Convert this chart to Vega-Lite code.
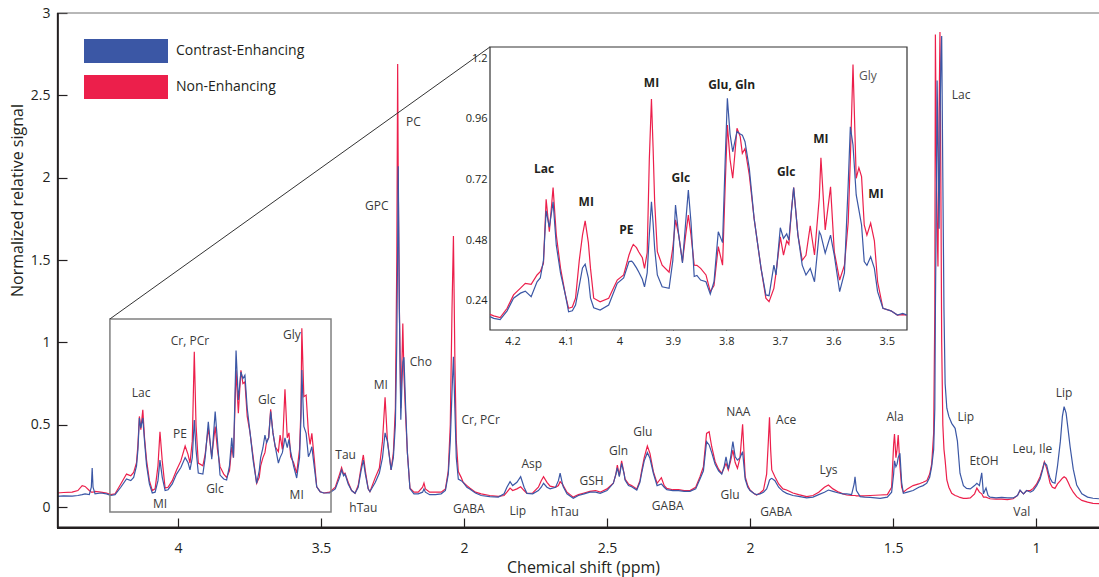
{
  "$schema": "https://vega.github.io/schema/vega-lite/v6.json",
  "width": 1042,
  "height": 515,
  "autosize": "none",
  "padding": {"left": 57, "top": 13, "right": 0, "bottom": 49},
  "background": "white",
  "config": {
    "view": {"stroke": null},
    "font": "Open Sans",
    "legend": {
      "orient": "none",
      "legendX": 27,
      "legendY": 26,
      "title": null,
      "padding": 0,
      "symbolType": "M-1,-0.2857H1V0.2857H-1Z",
      "symbolSize": 7056,
      "symbolStrokeWidth": 0,
      "labelFontSize": 14,
      "labelFont": "Open Sans",
      "labelColor": "#231f20",
      "labelOffset": 8,
      "clipHeight": 24,
      "rowPadding": 12
    }
  },
  "datasets": {
    "one": [{}],
    "main": [
      {"p":4.423,"C":0.065,"N":0.085},{"p":4.40,"C":0.068,"N":0.088},{"p":4.37,"C":0.066,"N":0.09},{"p":4.35,"C":0.07,"N":0.10},
      {"p":4.335,"C":0.075,"N":0.13},{"p":4.325,"C":0.08,"N":0.125},{"p":4.31,"C":0.075,"N":0.1},{"p":4.303,"C":0.12,"N":0.09},
      {"p":4.300,"C":0.237,"N":0.09},{"p":4.297,"C":0.12,"N":0.09},{"p":4.29,"C":0.08,"N":0.095},{"p":4.27,"C":0.085,"N":0.09},
      {"p":4.25,"C":0.08,"N":0.085},{"p":4.235,"C":0.07,"N":0.075},{"p":4.22,"C":0.075,"N":0.08},{"p":4.20,"C":0.12,"N":0.14},
      {"p":4.18,"C":0.17,"N":0.2},{"p":4.165,"C":0.16,"N":0.19},{"p":4.155,"C":0.18,"N":0.21},{"p":4.145,"C":0.25,"N":0.27},
      {"p":4.14,"C":0.35,"N":0.38},{"p":4.135,"C":0.54,"N":0.55},{"p":4.13,"C":0.48,"N":0.47},{"p":4.123,"C":0.54,"N":0.59},
      {"p":4.117,"C":0.4,"N":0.42},{"p":4.11,"C":0.255,"N":0.285},{"p":4.10,"C":0.14,"N":0.16},{"p":4.09,"C":0.085,"N":0.10},
      {"p":4.08,"C":0.09,"N":0.11},{"p":4.07,"C":0.16,"N":0.25},{"p":4.063,"C":0.285,"N":0.457},{"p":4.055,"C":0.18,"N":0.28},
      {"p":4.045,"C":0.10,"N":0.115},{"p":4.035,"C":0.105,"N":0.12},{"p":4.02,"C":0.14,"N":0.16},{"p":4.005,"C":0.2,"N":0.225},
      {"p":3.99,"C":0.24,"N":0.28},{"p":3.975,"C":0.30,"N":0.37},{"p":3.965,"C":0.27,"N":0.32},{"p":3.958,"C":0.225,"N":0.267},
      {"p":3.95,"C":0.3,"N":0.4},{"p":3.943,"C":0.528,"N":0.943},{"p":3.937,"C":0.35,"N":0.5},{"p":3.929,"C":0.206,"N":0.267},
      {"p":3.913,"C":0.20,"N":0.25},{"p":3.905,"C":0.3,"N":0.32},{"p":3.894,"C":0.518,"N":0.48},{"p":3.882,"C":0.29,"N":0.305},
      {"p":3.87,"C":0.579,"N":0.488},{"p":3.862,"C":0.4,"N":0.35},{"p":3.853,"C":0.194,"N":0.245},{"p":3.84,"C":0.17,"N":0.2},
      {"p":3.83,"C":0.164,"N":0.18},{"p":3.82,"C":0.25,"N":0.22},{"p":3.812,"C":0.42,"N":0.366},{"p":3.806,"C":0.3,"N":0.3},
      {"p":3.797,"C":0.95,"N":0.83},{"p":3.789,"C":0.65,"N":0.57},{"p":3.78,"C":0.82,"N":0.83},{"p":3.773,"C":0.78,"N":0.75},
      {"p":3.766,"C":0.80,"N":0.76},{"p":3.758,"C":0.6,"N":0.55},{"p":3.748,"C":0.45,"N":0.45},{"p":3.737,"C":0.28,"N":0.3},
      {"p":3.725,"C":0.144,"N":0.144},{"p":3.716,"C":0.22,"N":0.18},{"p":3.711,"C":0.30,"N":0.25},{"p":3.703,"C":0.36,"N":0.30},
      {"p":3.696,"C":0.437,"N":0.33},{"p":3.69,"C":0.39,"N":0.40},{"p":3.683,"C":0.42,"N":0.42},{"p":3.676,"C":0.58,"N":0.593},
      {"p":3.668,"C":0.45,"N":0.45},{"p":3.66,"C":0.366,"N":0.366},{"p":3.649,"C":0.267,"N":0.336},{"p":3.643,"C":0.3,"N":0.437},
      {"p":3.635,"C":0.33,"N":0.35},{"p":3.626,"C":0.42,"N":0.715},{"p":3.618,"C":0.36,"N":0.42},{"p":3.612,"C":0.41,"N":0.45},
      {"p":3.606,"C":0.336,"N":0.305},{"p":3.596,"C":0.25,"N":0.27},{"p":3.585,"C":0.176,"N":0.206},{"p":3.575,"C":0.3,"N":0.35},
      {"p":3.57,"C":0.55,"N":0.6},{"p":3.567,"C":0.832,"N":1.085},{"p":3.56,"C":0.49,"N":0.67},{"p":3.552,"C":0.447,"N":0.68},
      {"p":3.544,"C":0.305,"N":0.45},{"p":3.538,"C":0.33,"N":0.38},{"p":3.532,"C":0.366,"N":0.447},{"p":3.524,"C":0.25,"N":0.3},
      {"p":3.515,"C":0.123,"N":0.123},{"p":3.503,"C":0.093,"N":0.093},{"p":3.49,"C":0.085,"N":0.085},{"p":3.47,"C":0.085,"N":0.09},
      {"p":3.45,"C":0.11,"N":0.12},{"p":3.435,"C":0.18,"N":0.2},{"p":3.428,"C":0.225,"N":0.24},{"p":3.421,"C":0.19,"N":0.2},
      {"p":3.416,"C":0.2,"N":0.206},{"p":3.405,"C":0.14,"N":0.15},{"p":3.393,"C":0.1,"N":0.1},{"p":3.381,"C":0.083,"N":0.083},
      {"p":3.37,"C":0.12,"N":0.13},{"p":3.36,"C":0.22,"N":0.24},{"p":3.352,"C":0.285,"N":0.316},{"p":3.345,"C":0.2,"N":0.22},
      {"p":3.335,"C":0.11,"N":0.11},{"p":3.329,"C":0.093,"N":0.093},{"p":3.31,"C":0.15,"N":0.18},{"p":3.296,"C":0.206,"N":0.237},
      {"p":3.285,"C":0.3,"N":0.4},{"p":3.276,"C":0.45,"N":0.666},{"p":3.268,"C":0.40,"N":0.41},{"p":3.255,"C":0.225,"N":0.225},
      {"p":3.247,"C":0.3,"N":0.33},{"p":3.24,"C":0.5,"N":0.6},{"p":3.235,"C":1.0,"N":1.5},{"p":3.232,"C":1.6,"N":2.69},
      {"p":3.230,"C":2.07,"N":2.0},{"p":3.226,"C":1.2,"N":1.2},{"p":3.221,"C":0.53,"N":0.60},{"p":3.216,"C":0.8,"N":0.95},
      {"p":3.214,"C":0.88,"N":1.115},{"p":3.21,"C":0.91,"N":0.8},{"p":3.204,"C":0.6,"N":0.55},{"p":3.198,"C":0.33,"N":0.33},
      {"p":3.189,"C":0.11,"N":0.115},{"p":3.175,"C":0.08,"N":0.09},{"p":3.16,"C":0.08,"N":0.09},{"p":3.145,"C":0.09,"N":0.12},
      {"p":3.14,"C":0.11,"N":0.145},{"p":3.135,"C":0.09,"N":0.11},{"p":3.12,"C":0.075,"N":0.09},{"p":3.10,"C":0.075,"N":0.09},
      {"p":3.08,"C":0.08,"N":0.09},{"p":3.065,"C":0.1,"N":0.11},{"p":3.055,"C":0.2,"N":0.22},{"p":3.048,"C":0.4,"N":0.5},
      {"p":3.042,"C":0.7,"N":1.2},{"p":3.037,"C":0.913,"N":1.645},{"p":3.032,"C":0.6,"N":0.9},{"p":3.027,"C":0.3,"N":0.4},
      {"p":3.02,"C":0.17,"N":0.215},{"p":3.01,"C":0.16,"N":0.18},{"p":3.003,"C":0.15,"N":0.15},{"p":2.99,"C":0.12,"N":0.13},
      {"p":2.98,"C":0.11,"N":0.115},{"p":2.96,"C":0.085,"N":0.09},{"p":2.94,"C":0.07,"N":0.08},{"p":2.91,"C":0.063,"N":0.07},
      {"p":2.88,"C":0.06,"N":0.065},{"p":2.86,"C":0.08,"N":0.07},{"p":2.85,"C":0.12,"N":0.09},{"p":2.839,"C":0.154,"N":0.115},
      {"p":2.83,"C":0.13,"N":0.1},{"p":2.815,"C":0.15,"N":0.11},{"p":2.802,"C":0.184,"N":0.123},{"p":2.79,"C":0.12,"N":0.1},
      {"p":2.78,"C":0.083,"N":0.083},{"p":2.76,"C":0.08,"N":0.085},{"p":2.74,"C":0.1,"N":0.12},{"p":2.73,"C":0.12,"N":0.16},
      {"p":2.722,"C":0.144,"N":0.184},{"p":2.71,"C":0.12,"N":0.15},{"p":2.699,"C":0.11,"N":0.127},{"p":2.68,"C":0.12,"N":0.12},
      {"p":2.67,"C":0.16,"N":0.13},{"p":2.664,"C":0.205,"N":0.154},{"p":2.657,"C":0.15,"N":0.14},{"p":2.653,"C":0.123,"N":0.13},
      {"p":2.64,"C":0.08,"N":0.09},{"p":2.618,"C":0.053,"N":0.06},{"p":2.6,"C":0.07,"N":0.075},{"p":2.58,"C":0.08,"N":0.085},
      {"p":2.56,"C":0.09,"N":0.095},{"p":2.54,"C":0.09,"N":0.1},{"p":2.524,"C":0.083,"N":0.09},{"p":2.5,"C":0.1,"N":0.11},
      {"p":2.478,"C":0.144,"N":0.144},{"p":2.469,"C":0.2,"N":0.2},{"p":2.464,"C":0.237,"N":0.255},{"p":2.457,"C":0.184,"N":0.19},
      {"p":2.449,"C":0.265,"N":0.28},{"p":2.44,"C":0.2,"N":0.2},{"p":2.437,"C":0.164,"N":0.17},{"p":2.425,"C":0.13,"N":0.14},
      {"p":2.414,"C":0.123,"N":0.13},{"p":2.396,"C":0.103,"N":0.11},{"p":2.385,"C":0.15,"N":0.16},{"p":2.379,"C":0.205,"N":0.22},
      {"p":2.37,"C":0.28,"N":0.3},{"p":2.359,"C":0.33,"N":0.37},{"p":2.35,"C":0.296,"N":0.326},{"p":2.338,"C":0.205,"N":0.215},
      {"p":2.325,"C":0.13,"N":0.144},{"p":2.31,"C":0.14,"N":0.178},{"p":2.3,"C":0.12,"N":0.13},{"p":2.291,"C":0.105,"N":0.113},
      {"p":2.27,"C":0.1,"N":0.105},{"p":2.25,"C":0.1,"N":0.105},{"p":2.23,"C":0.095,"N":0.1},{"p":2.21,"C":0.095,"N":0.1},
      {"p":2.19,"C":0.11,"N":0.12},{"p":2.175,"C":0.17,"N":0.184},{"p":2.163,"C":0.22,"N":0.245},{"p":2.152,"C":0.397,"N":0.447},
      {"p":2.143,"C":0.377,"N":0.457},{"p":2.134,"C":0.33,"N":0.366},{"p":2.122,"C":0.26,"N":0.275},{"p":2.11,"C":0.22,"N":0.23},
      {"p":2.099,"C":0.2,"N":0.205},{"p":2.09,"C":0.25,"N":0.24},{"p":2.084,"C":0.305,"N":0.265},{"p":2.076,"C":0.23,"N":0.225},
      {"p":2.068,"C":0.3,"N":0.28},{"p":2.06,"C":0.397,"N":0.346},{"p":2.052,"C":0.305,"N":0.27},{"p":2.044,"C":0.285,"N":0.235},
      {"p":2.035,"C":0.3,"N":0.3},{"p":2.026,"C":0.336,"N":0.502},{"p":2.017,"C":0.17,"N":0.184},{"p":2.008,"C":0.12,"N":0.13},
      {"p":2.0,"C":0.1,"N":0.103},{"p":1.985,"C":0.08,"N":0.08},{"p":1.977,"C":0.075,"N":0.073},{"p":1.965,"C":0.08,"N":0.085},
      {"p":1.953,"C":0.09,"N":0.103},{"p":1.942,"C":0.11,"N":0.2},{"p":1.936,"C":0.14,"N":0.4},{"p":1.932,"C":0.164,"N":0.545},
      {"p":1.928,"C":0.17,"N":0.35},{"p":1.924,"C":0.174,"N":0.225},{"p":1.913,"C":0.16,"N":0.184},{"p":1.9,"C":0.12,"N":0.14},
      {"p":1.885,"C":0.095,"N":0.11},{"p":1.872,"C":0.083,"N":0.103},{"p":1.85,"C":0.07,"N":0.085},{"p":1.83,"C":0.065,"N":0.075},
      {"p":1.802,"C":0.055,"N":0.063},{"p":1.78,"C":0.06,"N":0.07},{"p":1.76,"C":0.075,"N":0.09},{"p":1.74,"C":0.09,"N":0.12},
      {"p":1.726,"C":0.103,"N":0.134},{"p":1.71,"C":0.095,"N":0.11},{"p":1.69,"C":0.085,"N":0.09},{"p":1.675,"C":0.08,"N":0.08},
      {"p":1.662,"C":0.08,"N":0.073},{"p":1.645,"C":0.075,"N":0.07},{"p":1.636,"C":0.14,"N":0.07},{"p":1.633,"C":0.184,"N":0.07},
      {"p":1.628,"C":0.1,"N":0.068},{"p":1.615,"C":0.063,"N":0.068},{"p":1.6,"C":0.06,"N":0.068},{"p":1.58,"C":0.058,"N":0.07},
      {"p":1.545,"C":0.053,"N":0.073},{"p":1.52,"C":0.06,"N":0.075},{"p":1.505,"C":0.09,"N":0.12},{"p":1.498,"C":0.2,"N":0.38},
      {"p":1.495,"C":0.28,"N":0.443},{"p":1.49,"C":0.245,"N":0.3},{"p":1.486,"C":0.26,"N":0.35},{"p":1.482,"C":0.3,"N":0.437},
      {"p":1.476,"C":0.326,"N":0.25},{"p":1.47,"C":0.15,"N":0.12},{"p":1.464,"C":0.083,"N":0.09},{"p":1.45,"C":0.09,"N":0.11},
      {"p":1.43,"C":0.1,"N":0.13},{"p":1.41,"C":0.12,"N":0.14},{"p":1.395,"C":0.13,"N":0.15},{"p":1.382,"C":0.145,"N":0.16},
      {"p":1.372,"C":0.18,"N":0.2},{"p":1.365,"C":0.245,"N":0.26},{"p":1.358,"C":0.35,"N":0.45},{"p":1.354,"C":0.6,"N":1.2},
      {"p":1.352,"C":1.2,"N":2.87},{"p":1.348,"C":2.0,"N":2.0},{"p":1.346,"C":2.59,"N":1.7},{"p":1.343,"C":2.2,"N":1.46},
      {"p":1.339,"C":1.69,"N":2.4},{"p":1.336,"C":2.3,"N":2.885},{"p":1.333,"C":2.7,"N":2.0},{"p":1.330,"C":2.86,"N":1.0},
      {"p":1.326,"C":2.0,"N":0.5},{"p":1.322,"C":1.2,"N":0.35},{"p":1.318,"C":0.75,"N":0.285},{"p":1.312,"C":0.6,"N":0.164},
      {"p":1.305,"C":0.55,"N":0.12},{"p":1.295,"C":0.508,"N":0.083},{"p":1.283,"C":0.478,"N":0.07},{"p":1.275,"C":0.4,"N":0.065},
      {"p":1.266,"C":0.205,"N":0.058},{"p":1.254,"C":0.13,"N":0.053},{"p":1.243,"C":0.113,"N":0.053},{"p":1.23,"C":0.11,"N":0.055},
      {"p":1.215,"C":0.13,"N":0.08},{"p":1.207,"C":0.144,"N":0.115},{"p":1.198,"C":0.13,"N":0.09},{"p":1.19,"C":0.208,"N":0.08},
      {"p":1.184,"C":0.08,"N":0.06},{"p":1.175,"C":0.115,"N":0.06},{"p":1.168,"C":0.07,"N":0.055},{"p":1.161,"C":0.06,"N":0.05},
      {"p":1.14,"C":0.055,"N":0.048},{"p":1.12,"C":0.058,"N":0.048},{"p":1.1,"C":0.055,"N":0.045},{"p":1.08,"C":0.055,"N":0.05},
      {"p":1.065,"C":0.07,"N":0.07},{"p":1.056,"C":0.103,"N":0.1},{"p":1.05,"C":0.09,"N":0.09},{"p":1.044,"C":0.08,"N":0.08},
      {"p":1.033,"C":0.1,"N":0.1},{"p":1.02,"C":0.09,"N":0.1},{"p":1.01,"C":0.1,"N":0.113},{"p":0.998,"C":0.13,"N":0.14},
      {"p":0.986,"C":0.17,"N":0.184},{"p":0.978,"C":0.22,"N":0.23},{"p":0.971,"C":0.269,"N":0.275},{"p":0.963,"C":0.255,"N":0.235},
      {"p":0.957,"C":0.21,"N":0.19},{"p":0.951,"C":0.174,"N":0.144},{"p":0.943,"C":0.15,"N":0.12},{"p":0.934,"C":0.144,"N":0.113},
      {"p":0.925,"C":0.25,"N":0.14},{"p":0.915,"C":0.4,"N":0.16},{"p":0.908,"C":0.55,"N":0.175},{"p":0.902,"C":0.61,"N":0.184},
      {"p":0.895,"C":0.57,"N":0.175},{"p":0.888,"C":0.47,"N":0.15},{"p":0.881,"C":0.366,"N":0.123},{"p":0.87,"C":0.23,"N":0.09},
      {"p":0.858,"C":0.134,"N":0.063},{"p":0.84,"C":0.08,"N":0.04},{"p":0.82,"C":0.06,"N":0.03},{"p":0.801,"C":0.053,"N":0.022},
      {"p":0.78,"C":0.05,"N":0.02}
    ],
    "inset": [
      {"p":4.242,"C":0.177,"N":0.186},{"p":4.235,"C":0.17,"N":0.18},{"p":4.223,"C":0.165,"N":0.173},{"p":4.21,"C":0.2,"N":0.21},
      {"p":4.198,"C":0.25,"N":0.263},{"p":4.185,"C":0.27,"N":0.29},{"p":4.176,"C":0.278,"N":0.309},{"p":4.165,"C":0.256,"N":0.305},
      {"p":4.154,"C":0.315,"N":0.342},{"p":4.148,"C":0.33,"N":0.355},{"p":4.142,"C":0.4,"N":0.388},{"p":4.137,"C":0.596,"N":0.642},
      {"p":4.131,"C":0.531,"N":0.513},{"p":4.124,"C":0.632,"N":0.688},{"p":4.118,"C":0.46,"N":0.50},{"p":4.11,"C":0.348,"N":0.368},
      {"p":4.101,"C":0.263,"N":0.263},{"p":4.095,"C":0.196,"N":0.21},{"p":4.088,"C":0.2,"N":0.215},{"p":4.082,"C":0.223,"N":0.25},
      {"p":4.075,"C":0.3,"N":0.4},{"p":4.069,"C":0.37,"N":0.5},{"p":4.064,"C":0.385,"N":0.556},{"p":4.058,"C":0.33,"N":0.47},
      {"p":4.054,"C":0.25,"N":0.368},{"p":4.048,"C":0.212,"N":0.25},{"p":4.036,"C":0.203,"N":0.236},{"p":4.02,"C":0.223,"N":0.25},
      {"p":4.004,"C":0.309,"N":0.322},{"p":3.992,"C":0.33,"N":0.342},{"p":3.982,"C":0.395,"N":0.421},{"p":3.977,"C":0.397,"N":0.45},
      {"p":3.974,"C":0.39,"N":0.463},{"p":3.968,"C":0.37,"N":0.45},{"p":3.964,"C":0.355,"N":0.434},{"p":3.957,"C":0.325,"N":0.41},
      {"p":3.953,"C":0.295,"N":0.368},{"p":3.948,"C":0.35,"N":0.43},{"p":3.944,"C":0.5,"N":0.8},{"p":3.94,"C":0.632,"N":1.039},
      {"p":3.937,"C":0.55,"N":0.85},{"p":3.934,"C":0.447,"N":0.632},{"p":3.929,"C":0.342,"N":0.434},{"p":3.92,"C":0.295,"N":0.381},
      {"p":3.907,"C":0.289,"N":0.353},{"p":3.9,"C":0.4,"N":0.45},{"p":3.895,"C":0.619,"N":0.56},{"p":3.889,"C":0.5,"N":0.5},
      {"p":3.882,"C":0.39,"N":0.395},{"p":3.876,"C":0.55,"N":0.5},{"p":3.871,"C":0.678,"N":0.579},{"p":3.866,"C":0.55,"N":0.5},
      {"p":3.86,"C":0.336,"N":0.381},{"p":3.855,"C":0.34,"N":0.38},{"p":3.848,"C":0.322,"N":0.368},{"p":3.838,"C":0.315,"N":0.342},
      {"p":3.83,"C":0.266,"N":0.276},{"p":3.823,"C":0.315,"N":0.3},{"p":3.815,"C":0.513,"N":0.454},{"p":3.807,"C":0.47,"N":0.381},
      {"p":3.802,"C":0.8,"N":0.7},{"p":3.798,"C":1.042,"N":0.936},{"p":3.793,"C":0.9,"N":0.8},{"p":3.788,"C":0.83,"N":0.725},
      {"p":3.784,"C":0.87,"N":0.82},{"p":3.78,"C":0.91,"N":0.923},{"p":3.774,"C":0.9,"N":0.89},{"p":3.77,"C":0.896,"N":0.824},
      {"p":3.765,"C":0.87,"N":0.843},{"p":3.757,"C":0.764,"N":0.738},{"p":3.748,"C":0.566,"N":0.566},{"p":3.735,"C":0.368,"N":0.368},
      {"p":3.726,"C":0.263,"N":0.25},{"p":3.72,"C":0.26,"N":0.236},{"p":3.711,"C":0.381,"N":0.289},{"p":3.707,"C":0.342,"N":0.35},
      {"p":3.699,"C":0.529,"N":0.493},{"p":3.693,"C":0.487,"N":0.421},{"p":3.687,"C":0.505,"N":0.477},{"p":3.683,"C":0.48,"N":0.463},
      {"p":3.678,"C":0.6,"N":0.6},{"p":3.674,"C":0.688,"N":0.688},{"p":3.666,"C":0.50,"N":0.50},{"p":3.658,"C":0.381,"N":0.4},
      {"p":3.651,"C":0.342,"N":0.42},{"p":3.643,"C":0.368,"N":0.537},{"p":3.635,"C":0.315,"N":0.421},{"p":3.626,"C":0.513,"N":0.65},
      {"p":3.623,"C":0.50,"N":0.806},{"p":3.615,"C":0.428,"N":0.52},{"p":3.605,"C":0.50,"N":0.691},{"p":3.598,"C":0.42,"N":0.434},
      {"p":3.588,"C":0.276,"N":0.322},{"p":3.579,"C":0.35,"N":0.381},{"p":3.572,"C":0.7,"N":0.55},{"p":3.568,"C":0.929,"N":0.8},
      {"p":3.563,"C":0.857,"N":1.176},{"p":3.557,"C":0.659,"N":0.725},{"p":3.552,"C":0.60,"N":0.767},{"p":3.547,"C":0.54,"N":0.732},
      {"p":3.542,"C":0.395,"N":0.54},{"p":3.537,"C":0.38,"N":0.50},{"p":3.53,"C":0.414,"N":0.547},{"p":3.523,"C":0.368,"N":0.477},
      {"p":3.517,"C":0.276,"N":0.315},{"p":3.507,"C":0.21,"N":0.21},{"p":3.492,"C":0.2,"N":0.2},{"p":3.48,"C":0.183,"N":0.183},
      {"p":3.47,"C":0.19,"N":0.185},{"p":3.462,"C":0.183,"N":0.183}
    ],
    "mlab": [
      {"p":4.129,"v":0.692,"t":"Lac"},{"p":3.993,"v":0.443,"t":"PE"},{"p":3.958,"v":1.01,"t":"Cr, PCr"},{"p":3.602,"v":1.044,"t":"Gly"},
      {"p":3.69,"v":0.65,"t":"Glc"},{"p":3.871,"v":0.107,"t":"Glc"},{"p":4.063,"v":0.018,"t":"MI"},{"p":3.585,"v":0.073,"t":"MI"},
      {"p":3.414,"v":0.316,"t":"Tau"},{"p":3.352,"v":-0.008,"t":"hTau"},{"p":3.291,"v":0.741,"t":"MI"},{"p":3.305,"v":1.83,"t":"GPC"},
      {"p":3.177,"v":2.34,"t":"PC"},{"p":3.151,"v":0.883,"t":"Cho"},{"p":2.942,"v":0.528,"t":"Cr, PCr"},{"p":2.983,"v":-0.014,"t":"GABA"},
      {"p":2.812,"v":-0.024,"t":"Lip"},{"p":2.763,"v":0.261,"t":"Asp"},{"p":2.647,"v":-0.028,"t":"hTau"},{"p":2.554,"v":0.158,"t":"GSH"},
      {"p":2.46,"v":0.34,"t":"Gln"},{"p":2.375,"v":0.457,"t":"Glu"},{"p":2.288,"v":0.006,"t":"GABA"},{"p":2.07,"v":0.073,"t":"Glu"},
      {"p":2.041,"v":0.579,"t":"NAA"},{"p":1.874,"v":0.528,"t":"Ace"},{"p":1.909,"v":-0.028,"t":"GABA"},{"p":1.726,"v":0.225,"t":"Lys"},
      {"p":1.493,"v":0.545,"t":"Ala"},{"p":1.262,"v":2.502,"t":"Lac"},{"p":1.246,"v":0.548,"t":"Lip"},{"p":1.182,"v":0.281,"t":"EtOH"},
      {"p":1.013,"v":0.35,"t":"Leu, Ile"},{"p":1.05,"v":-0.032,"t":"Val"},{"p":0.902,"v":0.69,"t":"Lip"}
    ],
    "ilab": [
      {"p":4.141,"v":0.762,"t":"Lac"},{"p":4.062,"v":0.632,"t":"MI"},{"p":3.987,"v":0.52,"t":"PE"},{"p":3.94,"v":1.101,"t":"MI"},
      {"p":3.885,"v":0.727,"t":"Glc"},{"p":3.79,"v":1.094,"t":"Glu, Gln"},{"p":3.688,"v":0.749,"t":"Glc"},{"p":3.623,"v":0.88,"t":"MI"},
      {"p":3.535,"v":1.131,"t":"Gly"},{"p":3.52,"v":0.661,"t":"MI"}
    ]
  },
  "layer": [
    {
      "layer": [
        {
          "data": {"name": "main"},
          "transform": [{"fold": ["N", "C"], "as": ["s", "v"]}],
          "mark": {"type": "line", "strokeWidth": 1.2, "clip": true},
          "encoding": {
            "x": {
              "field": "p", "type": "quantitative",
              "scale": {"domain": [0.78, 4.423], "reverse": true, "nice": false, "zero": false},
              "axis": {
                "orient": "bottom", "values": [1, 1.5, 2, 2.5, 3, 3.5, 4], "format": "~g",
                "labelExpr": "datum.value == 3 ? '2' : datum.label",
                "title": "Chemical shift (ppm)", "grid": false, "domain": false,
                "tickSize": -10, "labelPadding": 23, "tickWidth": 1.2, "tickColor": "#231f20",
                "labelFontSize": 14, "labelColor": "#231f20", "labelFont": "Open Sans",
                "titleFontSize": 16, "titleFontWeight": "normal", "titleColor": "#231f20", "titleFont": "Open Sans",
                "titleX": 526, "titleY": 39, "titleBaseline": "middle"
              }
            },
            "y": {
              "field": "v", "type": "quantitative",
              "scale": {"domain": [-0.1275, 3], "nice": false, "zero": false},
              "axis": {
                "orient": "left", "values": [0, 0.5, 1, 1.5, 2, 2.5, 3], "format": "~g",
                "title": "Normalized relative signal", "grid": false, "domain": false,
                "tickSize": -10, "labelPadding": 17, "tickWidth": 1.2, "tickColor": "#231f20",
                "labelFontSize": 14, "labelColor": "#231f20", "labelFont": "Open Sans",
                "titleFontSize": 16, "titleFontWeight": "normal", "titleColor": "#231f20", "titleFont": "Open Sans",
                "titleX": -40, "titleY": 187, "titleBaseline": "middle"
              }
            },
            "color": {
              "field": "s", "type": "nominal",
              "scale": {"domain": ["C", "N"], "range": ["#3b57a5", "#ec1f4b"]},
              "legend": {
                "labelExpr": "datum.value == 'C' ? 'Contrast-Enhancing' : 'Non-Enhancing'",
                "encode": {"symbols": {"update": {"fill": {"scale": "color", "field": "value"}, "stroke": {"value": "transparent"}, "opacity": {"value": 1}}}}
              }
            }
          }
        },
        {
          "data": {"name": "one"},
          "mark": {"type": "rule", "color": "#707070", "strokeWidth": 1},
          "encoding": {"y": {"datum": 3, "type": "quantitative"}}
        },
        {
          "data": {"name": "one"},
          "mark": {"type": "rule", "color": "#231f20", "strokeWidth": 2},
          "encoding": {"x": {"datum": 4.42, "type": "quantitative"}}
        },
        {
          "data": {"name": "one"},
          "mark": {"type": "rule", "color": "#231f20", "strokeWidth": 2.5},
          "encoding": {"y": {"datum": -0.1255, "type": "quantitative"}}
        },
        {
          "data": {"name": "one"},
          "mark": {"type": "rect", "fill": "white", "fillOpacity": 0, "stroke": "#808080", "strokeWidth": 1.5},
          "encoding": {
            "x": {"datum": 4.238, "type": "quantitative"},
            "x2": {"datum": 3.465},
            "y": {"datum": -0.03, "type": "quantitative"},
            "y2": {"datum": 1.142}
          }
        },
        {
          "data": {"name": "one"},
          "mark": {"type": "rule", "color": "#333333", "strokeWidth": 1},
          "encoding": {
            "x": {"datum": 4.238, "type": "quantitative"},
            "x2": {"datum": 2.909},
            "y": {"datum": 1.142, "type": "quantitative"},
            "y2": {"datum": 2.794}
          }
        },
        {
          "data": {"name": "mlab"},
          "mark": {"type": "text", "fontSize": 12, "font": "Open Sans", "color": "#3a3a3a", "align": "center", "baseline": "middle"},
          "encoding": {
            "x": {"field": "p", "type": "quantitative"},
            "y": {"field": "v", "type": "quantitative"},
            "text": {"field": "t"}
          }
        }
      ]
    },
    {
      "layer": [
        {
          "data": {"name": "one"},
          "mark": {"type": "rect", "fill": "white", "stroke": "#333333", "strokeWidth": 1.2},
          "encoding": {
            "x": {"datum": 4.242, "type": "quantitative", "scale": {"domain": [3.462, 4.242], "reverse": true, "nice": false, "zero": false, "range": [433, 850]}},
            "x2": {"datum": 3.462},
            "y": {"datum": 0.124, "type": "quantitative", "scale": {"domain": [0.124, 1.245], "nice": false, "zero": false, "range": [317, 34]}},
            "y2": {"datum": 1.245}
          }
        },
        {
          "data": {"name": "inset"},
          "transform": [{"fold": ["N", "C"], "as": ["s", "v"]}],
          "mark": {"type": "line", "strokeWidth": 1.2, "clip": true},
          "encoding": {
            "x": {
              "field": "p", "type": "quantitative",
              "scale": {"domain": [3.462, 4.242], "reverse": true, "nice": false, "zero": false, "range": [433, 850]},
              "axis": {
                "orient": "bottom", "offset": -198, "values": [3.5, 3.6, 3.7, 3.8, 3.9, 4, 4.1, 4.2], "format": "~g",
                "title": null, "grid": false, "domain": false,
                "tickSize": -5, "labelPadding": 10, "tickWidth": 1, "tickColor": "#333333",
                "labelFontSize": 11, "labelColor": "#231f20", "labelFont": "Open Sans"
              }
            },
            "y": {
              "field": "v", "type": "quantitative",
              "scale": {"domain": [0.124, 1.245], "nice": false, "zero": false, "range": [317, 34]},
              "axis": {
                "orient": "left", "offset": -433, "values": [0.24, 0.48, 0.72, 0.96, 1.2], "format": "~g",
                "title": null, "grid": false, "domain": false,
                "tickSize": -5, "labelPadding": 8, "tickWidth": 1, "tickColor": "#333333",
                "labelFontSize": 11, "labelColor": "#231f20", "labelFont": "Open Sans"
              }
            },
            "color": {"field": "s", "type": "nominal"}
          }
        },
        {
          "data": {"name": "ilab"},
          "transform": [{"filter": "datum.t !== 'Gly'"}],
          "mark": {"type": "text", "fontSize": 12, "fontWeight": "bold", "font": "Open Sans", "color": "#231f20", "align": "center", "baseline": "middle"},
          "encoding": {
            "x": {"field": "p", "type": "quantitative"},
            "y": {"field": "v", "type": "quantitative"},
            "text": {"field": "t"}
          }
        },
        {
          "data": {"name": "ilab"},
          "transform": [{"filter": "datum.t === 'Gly'"}],
          "mark": {"type": "text", "fontSize": 12, "font": "Open Sans", "color": "#555555", "align": "center", "baseline": "middle"},
          "encoding": {
            "x": {"field": "p", "type": "quantitative"},
            "y": {"field": "v", "type": "quantitative"},
            "text": {"field": "t"}
          }
        }
      ]
    }
  ],
  "resolve": {
    "scale": {"x": "independent", "y": "independent"},
    "axis": {"x": "independent", "y": "independent"}
  }
}
